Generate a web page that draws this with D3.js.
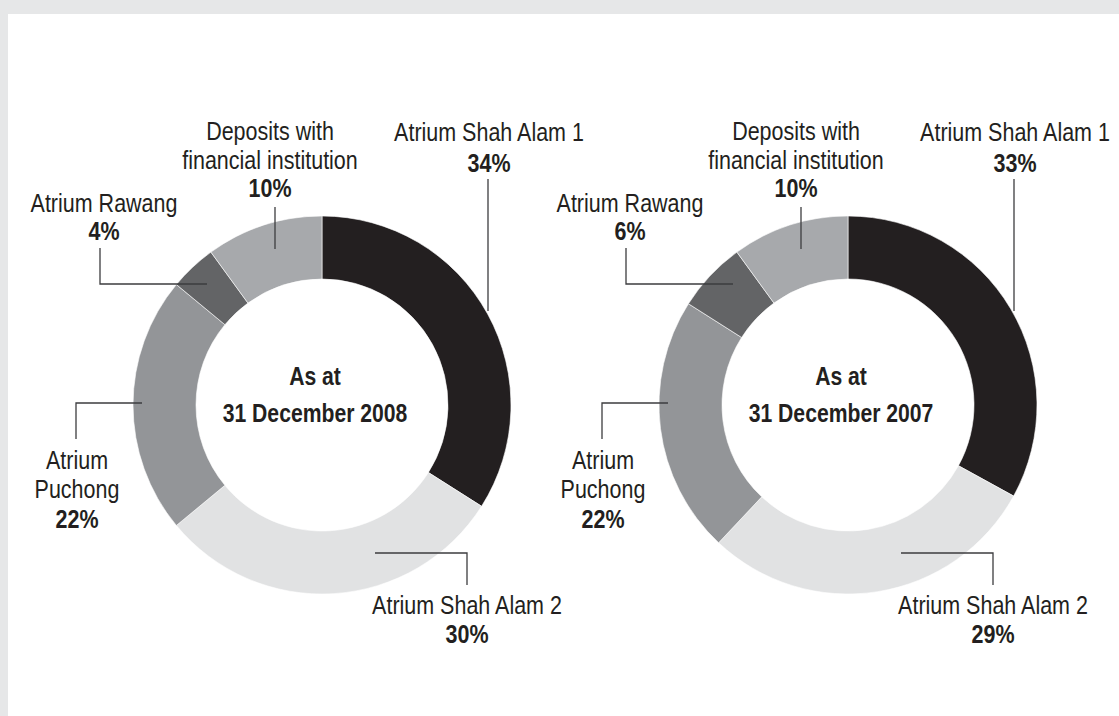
<!DOCTYPE html>
<html>
<head>
<meta charset="utf-8">
<script src="https://cdn.jsdelivr.net/npm/d3@7"></script>
<style>
  html, body { margin: 0; padding: 0; background: #e6e7e8; }
  svg { display: block; }
  text { font-family: "Liberation Sans", Arial, sans-serif; fill: #231f20; }
</style>
</head>
<body>
<svg id="chart" width="1119" height="716"></svg>
<script>
// ---- data ----
const categories = ["Atrium Shah Alam 1", "Atrium Shah Alam 2", "Atrium Puchong", "Atrium Rawang", "Deposits with financial institution"];
const labelLines = [["Atrium Shah Alam 1"], ["Atrium Shah Alam 2"], ["Atrium", "Puchong"], ["Atrium Rawang"], ["Deposits with", "financial institution"]];
const values2008 = [34, 30, 22, 4, 10];
const values2007 = [33, 29, 22, 6, 10];
const years = ["2008", "2007"];
const centreLines = ["As at", "31 December"];
const colours = ["#231f20", "#e1e2e3", "#939598", "#636466", "#a7a9ac"];

// ---- layout (relative to each donut centre) ----
const layout = {
  "Atrium Shah Alam 1": { x: 167, base: [-264, -233], leader: [[166, -226], [166, -94]] },
  "Atrium Shah Alam 2": { x: 145, base: [209, 238], leader: [[145, 180], [145, 148], [53, 148]] },
  "Atrium Puchong": { x: -245, base: [64, 93, 123], leader: [[-246, 34], [-246, -2], [-180, -2]] },
  "Atrium Rawang": { x: -218, base: [-193, -165], leader: [[-222, -157], [-222, -121], [-115, -121]] },
  "Deposits with financial institution": { x: -52, base: [-265, -236, -208], leader: [[-47, -198], [-47, -156]] }
};
const labelScale = 0.86, centreScale = 0.83;

const W = 1119, H = 716;
const svg = d3.select("#chart");
svg.append("rect").attr("width", W).attr("height", H).attr("fill", "#e6e7e8");
svg.append("rect").attr("x", 8).attr("y", 14).attr("width", W - 8).attr("height", H - 14).attr("fill", "#ffffff");

const cx = d3.scalePoint().domain(years).range([322, 848]);
const cy = 405;
const outerR = 189, innerR = 126;

const pie = d3.pie().sort(null).value(d => d.value);
const arc = d3.arc().innerRadius(innerR).outerRadius(outerR);
const colour = d3.scaleOrdinal().domain(categories).range(colours);
const line = d3.line();

const seriesByYear = { "2008": values2008, "2007": values2007 };

function condensedText(parent, x, y, str, size, bold, s) {
  parent.append("text")
    .attr("transform", `translate(${x},${y}) scale(${s},1)`)
    .attr("text-anchor", "middle")
    .style("font-size", size + "px")
    .style("font-weight", bold ? "bold" : "normal")
    .text(str);
}

years.forEach(year => {
  const data = categories.map((c, i) => ({ cat: c, lines: labelLines[i], value: seriesByYear[year][i] }));
  const g = svg.append("g").attr("transform", `translate(${cx(year)},${cy})`);

  g.selectAll("path.slice")
    .data(pie(data))
    .join("path")
    .attr("class", "slice")
    .attr("d", arc)
    .attr("fill", d => colour(d.data.cat))
    .attr("stroke", "#ffffff")
    .attr("stroke-width", 0.6);

  g.selectAll("path.leader")
    .data(data)
    .join("path")
    .attr("class", "leader")
    .attr("d", d => line(layout[d.cat].leader))
    .attr("fill", "none")
    .attr("stroke", "#3d3d3f")
    .attr("stroke-width", 1.3);

  data.forEach(d => {
    const L = layout[d.cat];
    d.lines.forEach((ln, k) => condensedText(g, L.x, L.base[k], ln, 25, false, labelScale));
    condensedText(g, L.x, L.base[d.lines.length], d.value + "%", 25, true, labelScale);
  });

  condensedText(g, -7, -20, centreLines[0], 25.5, true, centreScale);
  condensedText(g, -7, 17, centreLines[1] + " " + year, 25.5, true, centreScale);
});
</script>
</body>
</html>
